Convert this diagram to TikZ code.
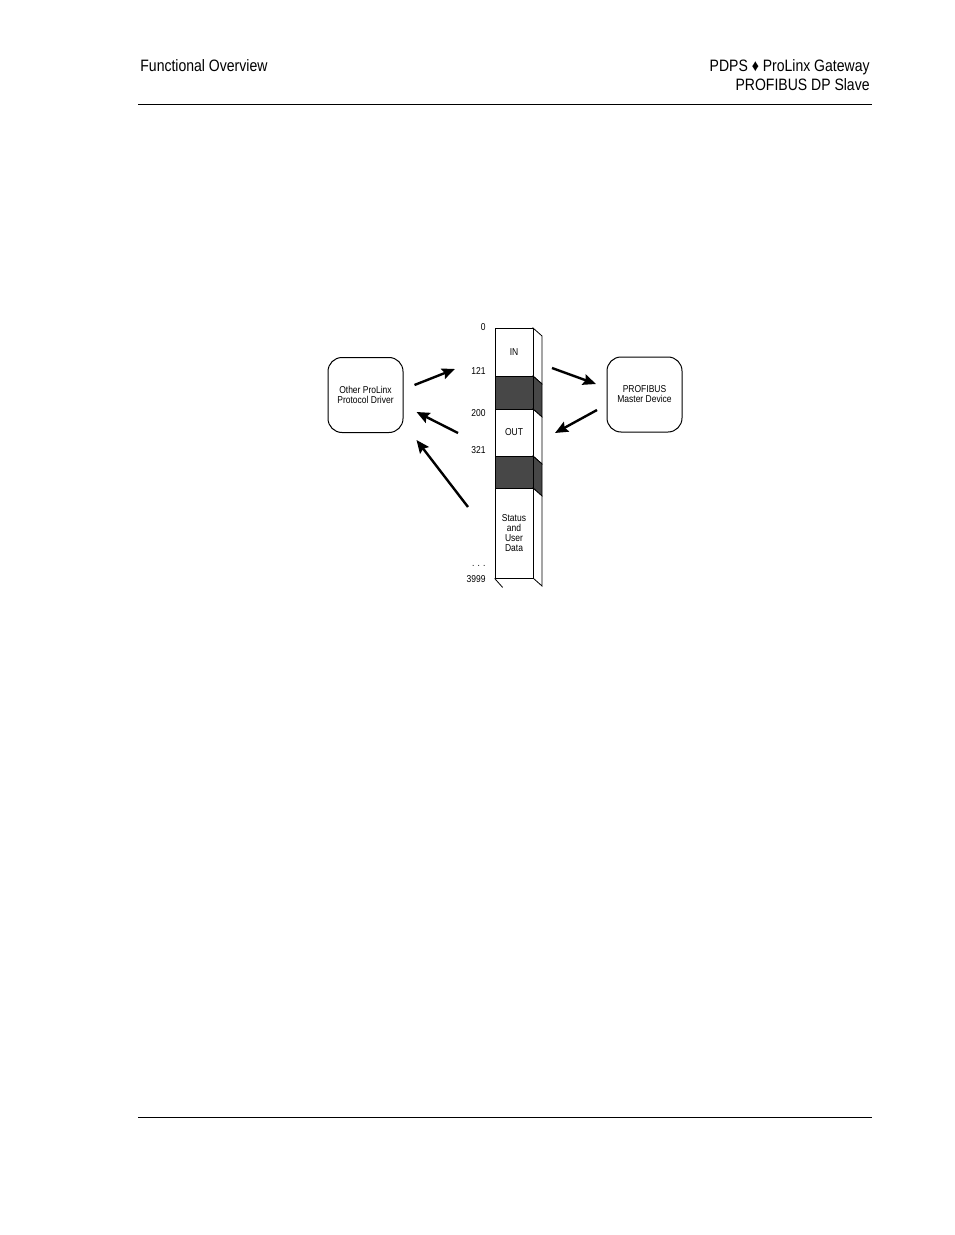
\documentclass[tikz,border=0pt]{standalone}
\usepackage{fontspec}
\setmainfont{Liberation Sans}[FakeStretch=0.85]
\usetikzlibrary{positioning, calc, arrows.meta}

\begin{document}
\begin{tikzpicture}[x=0.5pt, y=-0.5pt]
  \newcommand\colleft{495}
  \newcommand\colright{533}
  \newcommand\sidedx{9}
  \newcommand\sidedy{8}
  \newcommand\headsize{\fontsize{8.25}{9.5}\selectfont}
  \newcommand\figsize{\fontsize{5}{5}\selectfont}

  \tikzset{memcell/.style={draw, line width=0.4pt, fill=white, minimum width=19pt, inner sep=0pt, align=center, font=\figsize}}
  \tikzset{memgap/.style={memcell, fill=black!72}}
  \tikzset{device/.style={draw, line width=0.5pt, rounded corners=7pt, minimum width=37.5pt, minimum height=37.5pt, align=center, font=\figsize}}
  \tikzset{addr/.style={anchor=east, inner sep=0pt, font=\figsize}}
  \tikzset{flow/.style={-{Stealth[length=6.5pt, width=5.5pt, inset=1pt]}, line width=1.2pt}}
  \tikzset{pagerule/.style={line width=0.5pt}}

  \useasboundingbox[fill=white] (0,0) rectangle (954,1235);

  % page header and footer
  \node[anchor=base west, inner sep=0pt, font=\headsize] (title) at (140,72) {Functional Overview};
  \node[anchor=base east, inner sep=0pt, font=\headsize] (product) at (870,72) {PDPS ♦ ProLinx Gateway};
  \node[anchor=base east, inner sep=0pt, font=\headsize] (variant) at (870,91) {PROFIBUS DP Slave};
  \draw[pagerule] (138,105) -- (872,105);
  \draw[pagerule] (138,1117) -- (872,1117);

  % memory column
  \foreach \part/\top/\bot/\style/\shade/\txt in {in/328/376/memcell/white/IN, gap1/376/409/memgap/black!72/, out/409/456/memcell/white/OUT, gap2/456/488/memgap/black!72/, status/488/578/memcell/white/{Status\\and\\User\\Data}}{
    \pgfmathsetmacro\cellh{(\bot-\top)/2}
    \draw[line width=0.4pt, fill=\shade] (\colright,\top) -- ++(\sidedx,\sidedy) -- (\colright+\sidedx,\bot+\sidedy) -- (\colright,\bot) -- cycle;
    \node[\style, minimum height=\cellh pt] (mem-\part) at (\colleft/2+\colright/2,\top/2+\bot/2) {\txt};
  }
  \draw[line width=0.4pt] (mem-status.south west) -- ++(\sidedx-1,\sidedy+1);

  % addresses
  \foreach \num/\y in {0/327, 121/371, 200/413, 321/450, 3999/579}{
    \node[addr] (addr\num) at (486,\y) {\num};
  }
  \node[addr] (addrdots) at (486,566) {. . .};

  % devices
  \node[device] (driver) at (365.5,395) {Other ProLinx\\Protocol Driver};
  \node[device] (master) at (644.5,394.5) {PROFIBUS\\Master Device};

  % data flow
  \coordinate (in-from) at ($(driver.east)+(11,-10)$);
  \coordinate (in-to) at (455,369);
  \coordinate (out-from) at (458,433);
  \coordinate (out-to) at ($(driver.east)+(13,17)$);
  \coordinate (status-from) at (468,507);
  \coordinate (status-to) at ($(driver.east)+(13,45)$);
  \coordinate (send-from) at (552,368);
  \coordinate (send-to) at ($(master.west)+(-10.5,-10.5)$);
  \coordinate (recv-from) at ($(master.west)+(-9.5,15.5)$);
  \coordinate (recv-to) at (555,433);
  \foreach \a in {in, out, status, send, recv}{
    \draw[flow] (\a-from) -- (\a-to);
  }
\end{tikzpicture}
\end{document}
